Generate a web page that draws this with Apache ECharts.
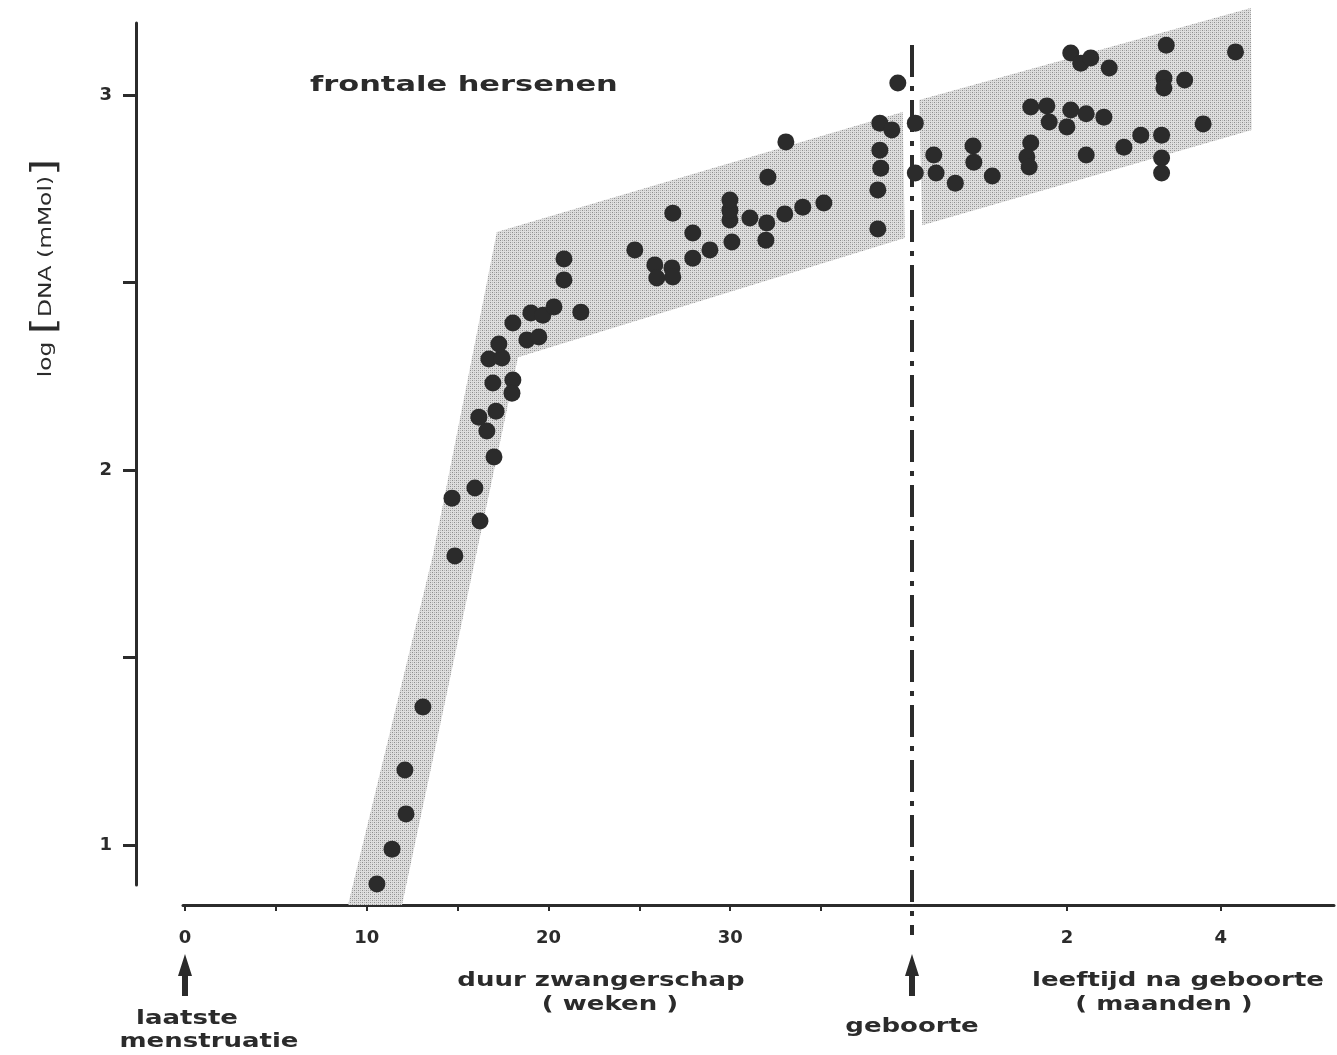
<!DOCTYPE html>
<html>
<head>
<meta charset="utf-8">
<script src="https://cdn.jsdelivr.net/npm/echarts@6/dist/echarts.min.js"></script>
<style>
  html, body { margin: 0; padding: 0; background: #fff; }
  #main { width: 1337px; height: 1055px; }
</style>
</head>
<body>
<div id="main"></div>
<script>
// pregnancy (weeks since last menstruation) vs log[DNA]
const pregWeeks = [10.56, 11.39, 12.16, 12.10, 13.09, 14.85, 14.69, 15.95, 16.23, 17.00,
  16.61, 16.17, 17.11, 16.94, 18.04, 17.99, 16.72, 17.44, 17.27, 18.04,
  18.81, 19.47, 19.03, 19.69, 20.30, 21.78, 20.85, 20.85, 24.75, 25.85,
  26.79, 25.96, 26.84, 26.84, 27.94, 27.94, 28.88, 30.09, 29.98, 29.98,
  29.98, 31.08, 32.01, 31.96, 32.07, 33.00, 33.99, 35.15, 33.06, 38.23,
  38.89, 38.23, 38.28, 38.12, 38.12, 39.22];
const pregDNA = [0.896, 0.989, 1.083, 1.200, 1.368, 1.771, 1.925, 1.952, 1.864, 2.035,
  2.104, 2.141, 2.157, 2.232, 2.240, 2.205, 2.296, 2.299, 2.336, 2.392,
  2.347, 2.355, 2.419, 2.413, 2.435, 2.421, 2.507, 2.563, 2.587, 2.547,
  2.539, 2.512, 2.515, 2.685, 2.632, 2.565, 2.587, 2.608, 2.667, 2.693,
  2.720, 2.672, 2.659, 2.613, 2.781, 2.683, 2.701, 2.712, 2.875, 2.925,
  2.907, 2.853, 2.805, 2.747, 2.643, 3.032];

// after birth (months)
const postMonths = [0.03, 0.03, 0.27, 0.30, 0.55, 0.78, 0.79, 1.03, 1.53, 1.74,
  1.77, 1.53, 1.48, 1.51, 2.05, 2.18, 2.31, 2.05, 2.25, 2.00,
  2.25, 2.55, 2.48, 2.74, 2.96, 3.23, 3.23, 3.23, 3.26, 3.26,
  3.29, 3.53, 3.77, 4.19];
const postDNA = [2.925, 2.792, 2.840, 2.792, 2.765, 2.864, 2.821, 2.784, 2.968, 2.971,
  2.928, 2.872, 2.835, 2.808, 3.112, 3.085, 3.099, 2.960, 2.950, 2.915,
  2.840, 3.072, 2.941, 2.861, 2.893, 2.893, 2.832, 2.792, 3.045, 3.019,
  3.133, 3.040, 2.923, 3.115];

// shaded ranges (outline vertices)
const pregBandWeeks = [8.97, 11.94, 18.32, 39.60, 39.49, 17.16, 13.64];
const pregBandDNA = [0.84, 0.84, 2.301, 2.619, 2.955, 2.635, 1.773];
const postBandMonths = [0.08, 4.39, 4.40, 0.12];
const postBandDNA = [2.987, 3.232, 2.907, 2.653];

// ticks
const weekTicks = [0, 5, 10, 15, 20, 25, 30, 35];
const weekLabels = [0, 10, 20, 30];
const monthTicks = [2, 4];
const monthLabels = [2, 4];
const dnaTicks = [1, 1.5, 2, 2.5, 3];
const dnaLabels = [1, 2, 3];
const birthWeek = 40;

const FONT = 'DejaVu Sans';
const INK = '#2b2b2b';

function stipple() {
  const c = document.createElement('canvas');
  c.width = 4; c.height = 4;
  const ctx = c.getContext('2d');
  ctx.fillStyle = '#dedede';
  ctx.fillRect(0, 0, 4, 4);
  ctx.fillStyle = '#8e8e8e';
  ctx.fillRect(0, 0, 1, 1);
  ctx.fillRect(2, 2, 1, 1);
  ctx.fillStyle = '#b4b4b4';
  ctx.fillRect(2, 0, 1, 1);
  ctx.fillRect(0, 2, 1, 1);
  return c;
}
const bandFill = { image: stipple(), repeat: 'repeat' };

function zip(a, b) { return a.map((v, i) => [v, b[i]]); }

function bandSeries(xi, xs, ys) {
  return {
    type: 'custom',
    xAxisIndex: xi, yAxisIndex: xi,
    silent: true, z: 1,
    data: zip(xs, ys),
    renderItem: function (params, api) {
      if (params.dataIndex !== 0) return;
      const pts = xs.map((x, i) => api.coord([x, ys[i]]));
      return { type: 'polygon', shape: { points: pts }, style: { fill: bandFill } };
    }
  };
}

const axisLineStyle = { color: INK, width: 3 };
const tickLabel = { fontFamily: FONT, fontWeight: 'bold', fontSize: 18, color: INK };

const chart = echarts.init(document.getElementById('main'));

chart.setOption({
  animation: false,
  backgroundColor: '#fff',
  grid: [
    { left: 136, top: 23, width: 1, height: 862, outerBoundsMode: 'none' },
    { left: 183, top: 5, width: 729, height: 900, outerBoundsMode: 'none' },
    { left: 913, top: 5, width: 421, height: 900, outerBoundsMode: 'none' }
  ],
  xAxis: [
    { gridIndex: 0, type: 'value', show: false, min: 0, max: 1 },
    {
      gridIndex: 1, type: 'value', min: -0.11, max: 40, position: 'bottom',
      axisLine: { onZero: false, lineStyle: axisLineStyle },
      axisTick: { customValues: weekTicks, length: 6, lineStyle: { color: INK, width: 2 } },
      axisLabel: Object.assign({ customValues: weekLabels, margin: 24 }, tickLabel),
      splitLine: { show: false }
    },
    {
      gridIndex: 2, type: 'value', min: 0, max: 5.47, position: 'bottom',
      axisLine: { onZero: false, lineStyle: axisLineStyle },
      axisTick: { customValues: monthTicks, length: 6, lineStyle: { color: INK, width: 2 } },
      axisLabel: Object.assign({ customValues: monthLabels, margin: 24 }, tickLabel),
      splitLine: { show: false }
    }
  ],
  yAxis: [
    {
      gridIndex: 0, type: 'value', min: 0.8933, max: 3.192, position: 'left',
      axisLine: { show: true, onZero: false, lineStyle: axisLineStyle },
      axisTick: { show: true, customValues: dnaTicks, length: 13, lineStyle: { color: INK, width: 3 } },
      axisLabel: Object.assign({ customValues: dnaLabels, margin: 24 }, tickLabel),
      splitLine: { show: false }
    },
    { gridIndex: 1, type: 'value', show: false, min: 0.84, max: 3.24 },
    { gridIndex: 2, type: 'value', show: false, min: 0.84, max: 3.24 }
  ],
  series: [
    bandSeries(1, pregBandWeeks, pregBandDNA),
    bandSeries(2, postBandMonths, postBandDNA),
    {
      type: 'scatter', xAxisIndex: 1, yAxisIndex: 1, z: 3,
      symbolSize: 17, itemStyle: { color: INK, opacity: 1 },
      data: zip(pregWeeks, pregDNA)
    },
    {
      type: 'scatter', xAxisIndex: 2, yAxisIndex: 2, z: 3,
      symbolSize: 17, itemStyle: { color: INK, opacity: 1 },
      data: zip(postMonths, postDNA)
    }
  ]
});

// annotations: birth line, arrows and texts
const x0 = chart.convertToPixel({ xAxisIndex: 1 }, 0);
const xb = chart.convertToPixel({ xAxisIndex: 1 }, birthWeek);

function arrow(x) {
  return {
    type: 'polygon', z: 10,
    shape: { points: [[x, 954], [x + 7, 976], [x + 3, 976], [x + 3, 996], [x - 3, 996], [x - 3, 976], [x - 7, 976]] },
    style: { fill: INK }
  };
}

function text(str, x, y, size, sx, align) {
  return {
    type: 'text', x: x, y: y, scaleX: sx, z: 10,
    style: {
      text: str, fontFamily: FONT, fontWeight: 'bold', fontSize: size, fill: INK,
      textAlign: align || 'center', textVerticalAlign: 'middle'
    }
  };
}

chart.setOption({
  graphic: [
    {
      type: 'line', z: 10,
      shape: { x1: xb, y1: 45, x2: xb, y2: 935 },
      style: { stroke: INK, lineWidth: 4, lineDash: [32, 9, 5, 9] }
    },
    arrow(x0),
    arrow(xb),
    text('frontale hersenen', 310, 86, 21, 1.45, 'left'),
    text('duur zwangerschap', 601, 981, 20, 1.3),
    text('( weken )', 610, 1005, 20, 1.3),
    text('leeftijd na geboorte', 1178, 981, 20, 1.3),
    text('( maanden )', 1164, 1005, 20, 1.3),
    text('laatste', 187, 1019, 20, 1.3),
    text('menstruatie', 209, 1042, 20, 1.3),
    text('geboorte', xb, 1027, 20, 1.3),
    {
      type: 'text', x: 46, y: 268, rotation: Math.PI / 2, scaleX: 1.3, z: 10,
      style: {
        text: '{n|log }{b|[}{n|DNA (mMol)}{b|]}',
        textAlign: 'center', textVerticalAlign: 'middle', fill: INK,
        rich: {
          n: { fontFamily: FONT, fontSize: 18, fill: INK },
          b: { fontFamily: FONT, fontSize: 34, fill: INK }
        }
      }
    }
  ]
});
</script>
</body>
</html>
